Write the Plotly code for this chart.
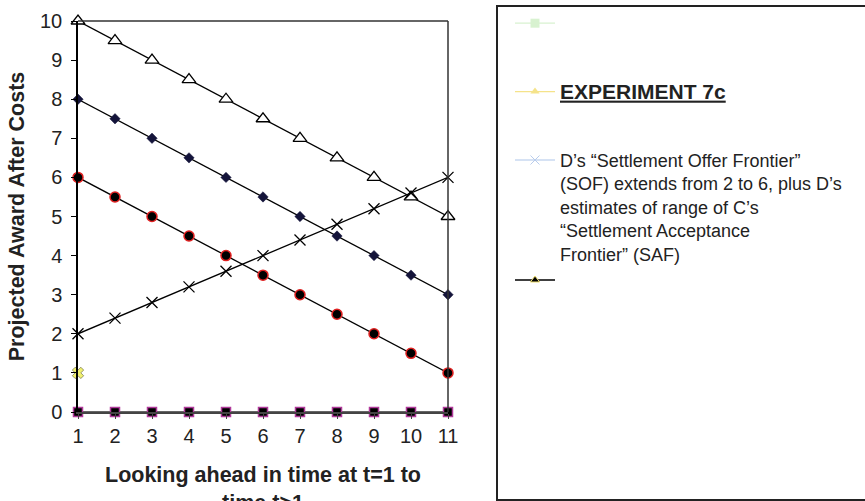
import plotly.graph_objects as go

t = [1, 2, 3, 4, 5, 6, 7, 8, 9, 10, 11]
tri_open = [10, 9.5, 9, 8.5, 8, 7.5, 7, 6.5, 6, 5.5, 5]
diamond = [8, 7.5, 7, 6.5, 6, 5.5, 5, 4.5, 4, 3.5, 3]
circle = [6, 5.5, 5, 4.5, 4, 3.5, 3, 2.5, 2, 1.5, 1]
sof = [2, 2.4, 2.8, 3.2, 3.6, 4, 4.4, 4.8, 5.2, 5.6, 6]
yellow_x_t = [1]
yellow_x_v = [1]
zeros = [0, 0, 0, 0, 0, 0, 0, 0, 0, 0, 0]
y_ticks = [0, 1, 2, 3, 4, 5, 6, 7, 8, 9, 10]

legend_1 = ""
legend_2 = "<span style='font-size:21px'><u><b>EXPERIMENT 7c</b></u></span>"
legend_3 = ("D\u2019s \u201cSettlement Offer Frontier\u201d<br>(SOF) extends from 2 to 6, plus D\u2019s<br>"
            "estimates of range of C\u2019s<br>\u201cSettlement Acceptance<br>Frontier\u201d (SAF)")
legend_4 = ""
x_title = "<b>Looking ahead in time at t=1 to<br>time t>1</b>"
y_title = "<b>Projected Award After Costs</b>"

W, H = 865, 501
L, R, T, B = 78, 448, 21, 412

fig = go.Figure()

line = dict(color="black", width=1.3)
fig.add_trace(go.Scatter(x=t, y=zeros, mode="lines+markers", line=dict(color="#333333", width=1.3),
                         marker=dict(symbol="square", size=9, color="black",
                                     line=dict(color="#b03a9a", width=1.5)),
                         showlegend=False, cliponaxis=False))
fig.add_trace(go.Scatter(x=t, y=tri_open, mode="lines+markers", line=line,
                         marker=dict(symbol="triangle-up", size=12, color="white",
                                     line=dict(color="black", width=1.3)),
                         showlegend=False, cliponaxis=False))
fig.add_trace(go.Scatter(x=t, y=diamond, mode="lines+markers", line=line,
                         marker=dict(symbol="diamond", size=8, color="#14143a",
                                     line=dict(color="#14143a", width=0.5)),
                         showlegend=False, cliponaxis=False))
fig.add_trace(go.Scatter(x=t, y=circle, mode="lines+markers", line=line,
                         marker=dict(symbol="circle", size=10, color="black",
                                     line=dict(color="#e02020", width=1.5)),
                         showlegend=False, cliponaxis=False))
fig.add_trace(go.Scatter(x=t, y=sof, mode="lines+markers", line=line,
                         marker=dict(symbol="x-thin", size=11, color="black",
                                     line=dict(color="black", width=1.3)),
                         showlegend=False, cliponaxis=False))
fig.add_trace(go.Scatter(x=yellow_x_t, y=yellow_x_v, mode="markers",
                         marker=dict(symbol="x", size=10, color="#f0f070",
                                     line=dict(color="#555533", width=0.6)),
                         showlegend=False, cliponaxis=False))

# legend-only entries
fig.add_trace(go.Scatter(x=[None], y=[None], mode="lines+markers", name=legend_1,
                         line=dict(color="#d8f2d0", width=1.3),
                         marker=dict(symbol="square", size=9, color="#d8f2d0"),
                         legendgroup="g1"))
fig.add_trace(go.Scatter(x=[None], y=[None], mode="lines+markers", name=legend_2,
                         line=dict(color="#f5e38a", width=1.3),
                         marker=dict(symbol="triangle-up", size=8, color="#f5e38a"),
                         legendgroup="g2"))
fig.add_trace(go.Scatter(x=[None], y=[None], mode="lines+markers", name=legend_3,
                         line=dict(color="#c8d8f0", width=1.3),
                         marker=dict(symbol="x-thin", size=9, color="#c8d8f0",
                                     line=dict(color="#b8ccec", width=1)),
                         legendgroup="g3"))
fig.add_trace(go.Scatter(x=[None], y=[None], mode="lines+markers", name=legend_4,
                         line=dict(color="black", width=1.3),
                         marker=dict(symbol="triangle-up", size=8, color="black",
                                     line=dict(color="#f0e070", width=1)),
                         legendgroup="g3"))

pw, ph = R - L, B - T
def px2paper_x(px):
    return (px - L) / pw
def px2paper_y(py):
    return (B - py) / ph

fig.add_shape(type="rect", xref="paper", yref="paper",
              x0=px2paper_x(497), x1=px2paper_x(880), y0=px2paper_y(500), y1=px2paper_y(6),
              line=dict(color="#222222", width=2), fillcolor="rgba(0,0,0,0)")

font = "Liberation Sans, Arial, sans-serif"
fig.update_layout(
    width=W, height=H,
    margin=dict(l=L, r=W - R, t=T, b=H - B, autoexpand=False),
    paper_bgcolor="white", plot_bgcolor="white",
    font=dict(family=font, size=20, color="#222222"),
    showlegend=True,
    legend=dict(x=px2paper_x(510), y=px2paper_y(5), xanchor="left", yanchor="top",
                valign="top", tracegroupgap=42, itemwidth=40, maxheight=495,
                font=dict(family=font, size=18, color="#222222"),
                bgcolor="rgba(0,0,0,0)", borderwidth=0, traceorder="grouped"),
    xaxis=dict(range=[1, 11], tickmode="array", tickvals=t, ticktext=[str(v) for v in t],
               showgrid=False, zeroline=False, showline=True, linecolor="#444444", linewidth=2,
               mirror=False, ticks="outside", ticklen=5, tickcolor="#444444",
               tickfont=dict(size=20), fixedrange=True),
    yaxis=dict(range=[0, 10], tickmode="array", tickvals=y_ticks,
               showgrid=False, zeroline=False, showline=True, linecolor="black", linewidth=1.5,
               ticks="outside", ticklen=5, tickcolor="black", tickfont=dict(size=20),
               ticklabelstandoff=5,
               title=dict(text=y_title, font=dict(size=21.5), standoff=9)),
)
fig.add_annotation(text=x_title, xref="paper", yref="paper", x=0.5, y=px2paper_y(461),
                   xanchor="center", yanchor="top", showarrow=False,
                   font=dict(family=font, size=21.5, color="#222222"))
# top and right frame lines
fig.add_shape(type="line", xref="paper", yref="paper", x0=0, x1=1, y0=1, y1=1,
              line=dict(color="#333333", width=1.5))
fig.add_shape(type="line", xref="paper", yref="paper", x0=1, x1=1, y0=0, y1=1,
              line=dict(color="#333333", width=1.5))

fig.write_html("out.html", config={"displayModeBar": False},
               post_script="document.body.style.margin='0';")
